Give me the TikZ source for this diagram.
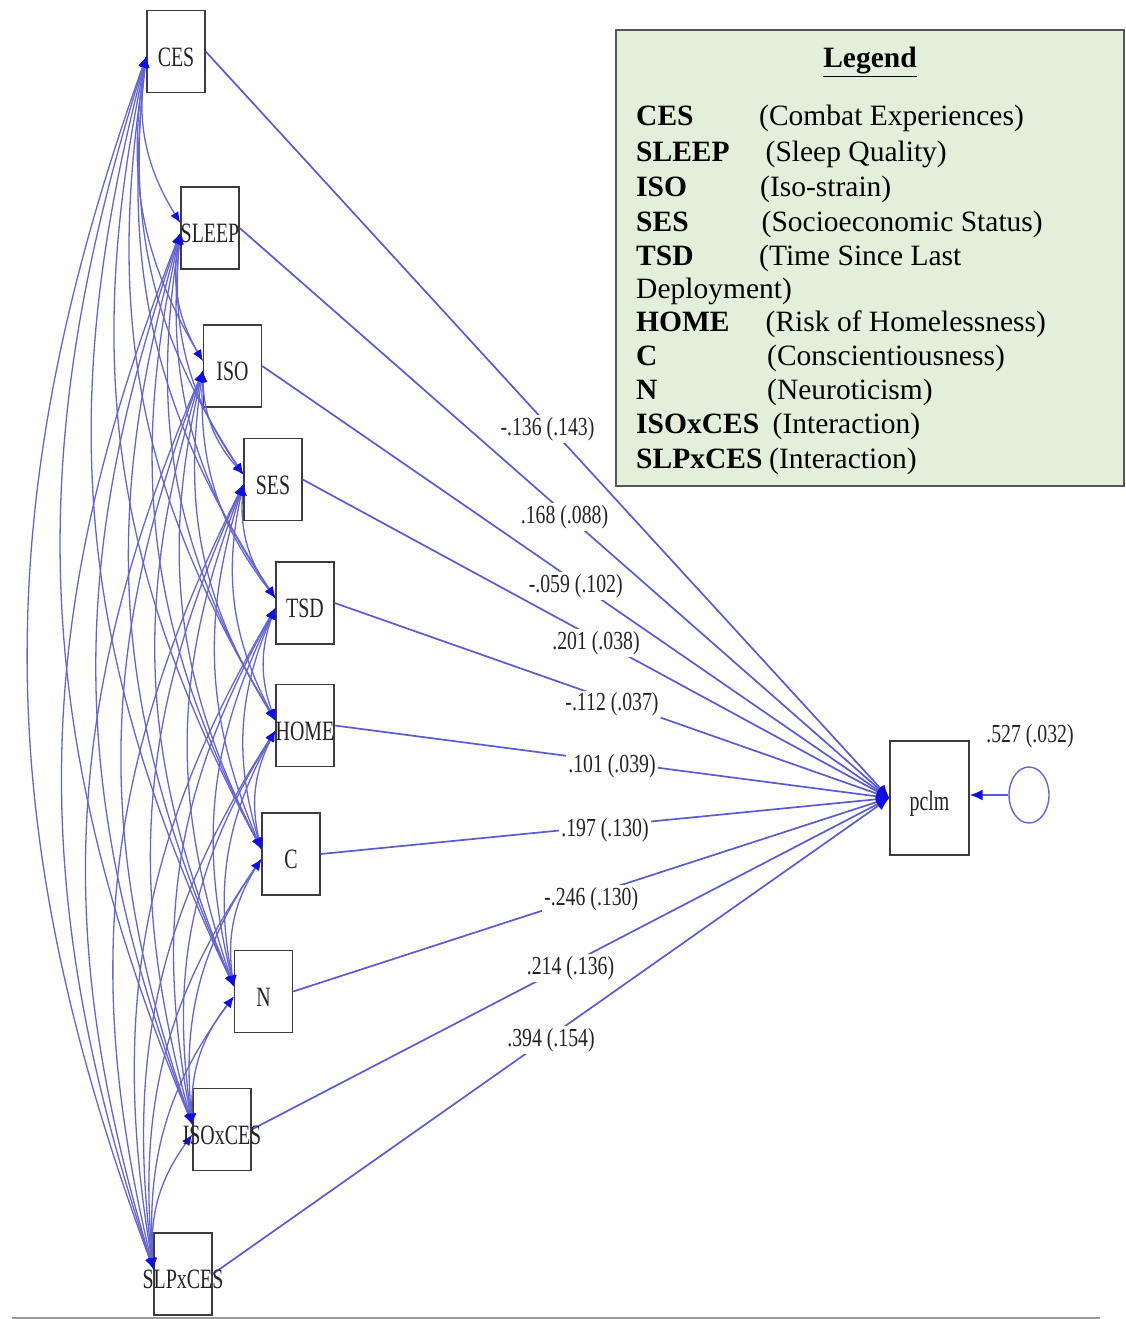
\documentclass[tikz,border=0pt]{standalone}
\usepackage{fontspec}
\setmainfont{Liberation Serif}
\usepackage{graphicx}
\usetikzlibrary{arrows.meta,shapes.geometric,calc}
\definecolor{covc}{RGB}{100,100,215}
\definecolor{regc}{RGB}{90,90,210}
\definecolor{arrc}{RGB}{15,15,225}
\definecolor{boxc}{RGB}{60,60,60}
\definecolor{txtc}{RGB}{35,35,35}
\definecolor{leggreen}{RGB}{226,239,218}
\definecolor{legline}{RGB}{85,85,85}
\newcommand{\vlabtext}[1]{\scalebox{0.71}[1]{#1}}
\newcommand{\elabtext}[1]{\scalebox{0.76}[1]{#1}}
\begin{document}
\begin{tikzpicture}[x=1pt,y=-1pt,
  vbox/.style={draw=boxc,line width=1.4pt,minimum width=58pt,minimum height=82pt,inner sep=0pt},
  vlab/.style={font=\fontsize{28}{30}\selectfont,text=txtc,inner sep=0pt},
  cov/.style={draw=covc,line width=1.3pt,{Latex[length=11pt,width=9pt,color=arrc]}-{Latex[length=11pt,width=9pt,color=arrc]}},
  reg/.style={draw=regc,line width=1.7pt,-{Latex[length=13pt,width=11pt,color=arrc]}},
  elab/.style={font=\fontsize{26}{28}\selectfont,text=txtc,fill=white,inner sep=2pt,yshift=-4pt},
  lterm/.style={anchor=base west,font=\fontsize{29.5}{32}\selectfont\bfseries,inner sep=0pt},
  ldesc/.style={anchor=base west,font=\fontsize{29.5}{32}\selectfont,inner sep=0pt}]
\useasboundingbox (0,0) rectangle (1125,1319);

% legend
\draw[draw=legline,fill=leggreen,line width=1.3pt] (616,30) rectangle (1124,486);
\node[anchor=base,font=\fontsize{29.5}{32}\selectfont\bfseries,inner sep=0pt] (legt) at (870,68) {\underline{Legend}};
\node[lterm] (l1) at (636,125) {CES};      \node[ldesc] (d1) at (759,125) {(Combat Experiences)};
\node[lterm] (l2) at (636,161.5) {SLEEP};  \node[ldesc] (d2) at (765.5,161.5) {(Sleep Quality)};
\node[lterm] (l3) at (636,196.5) {ISO};    \node[ldesc] (d3) at (760,196.5) {(Iso-strain)};
\node[lterm] (l4) at (636,231.5) {SES};    \node[ldesc] (d4) at (761.5,231.5) {(Socioeconomic Status)};
\node[lterm] (l5) at (636,265) {TSD};      \node[ldesc] (d5) at (759,265) {(Time Since Last};
\node[ldesc] (d5b) at (636,298.5) {Deployment)};
\node[lterm] (l6) at (636,331.5) {HOME};   \node[ldesc] (d6) at (765.5,331.5) {(Risk of Homelessness)};
\node[lterm] (l7) at (636,365.5) {C};      \node[ldesc] (d7) at (767,365.5) {(Conscientiousness)};
\node[lterm] (l8) at (636,399.5) {N};      \node[ldesc] (d8) at (767,399.5) {(Neuroticism)};
\node[lterm] (l9) at (636,433.5) {ISOxCES}; \node[ldesc] (d9) at (772.5,433.5) {(Interaction)};
\node[lterm] (l10) at (636,468) {SLPxCES}; \node[ldesc] (d10) at (769,468) {(Interaction)};

% variable boxes
\node[vbox] (CES) at (176,51.5) {};
\node[vbox] (SLEEP) at (210,228) {};
\node[vbox] (ISO) at (232.5,366) {};
\node[vbox] (SES) at (273,479.5) {};
\node[vbox] (TSD) at (305,603) {};
\node[vbox] (HOME) at (305,725.5) {};
\node[vbox] (C) at (291,854) {};
\node[vbox] (N) at (263.5,991.5) {};
\node[vbox] (ISOxCES) at (222,1129.5) {};
\node[vbox] (SLPxCES) at (183,1274) {};
\node[vbox,minimum width=79pt,minimum height=114pt] (pclm) at (929.5,798) {};
\node[ellipse,draw=covc,line width=1.4pt,minimum width=40pt,minimum height=56pt,inner sep=0pt] (res) at (1029,795) {};

% covariances
\foreach \a [count=\i] in {CES,SLEEP,ISO,SES,TSD,HOME,C,N,ISOxCES,SLPxCES}{
  \foreach \b [count=\j] in {CES,SLEEP,ISO,SES,TSD,HOME,C,N,ISOxCES,SLPxCES}{
    \ifnum\j>\i
      \coordinate (cp) at ([yshift=-5pt]\a.west);
      \coordinate (cq) at ([yshift=5pt]\b.west);
      \draw[cov] (cp) .. controls ($(cp)!0.3915!-20:(cq)$) and ($(cq)!0.3915!20:(cp)$) .. (cq);
    \fi
  }
}

% regressions
\draw[reg] (CES.east) -- node[elab] (e1) {\elabtext{-.136 (.143)}} (pclm.west);
\draw[reg] (SLEEP.east) -- node[elab] (e2) {\elabtext{.168 (.088)}} (pclm.west);
\draw[reg] (ISO.east) -- node[elab] (e3) {\elabtext{-.059 (.102)}} (pclm.west);
\draw[reg] (SES.east) -- node[elab] (e4) {\elabtext{.201 (.038)}} (pclm.west);
\draw[reg] (TSD.east) -- node[elab] (e5) {\elabtext{-.112 (.037)}} (pclm.west);
\draw[reg] (HOME.east) -- node[elab] (e6) {\elabtext{.101 (.039)}} (pclm.west);
\draw[reg] (C.east) -- node[elab] (e7) {\elabtext{.197 (.130)}} (pclm.west);
\draw[reg] (N.east) -- node[elab] (e8) {\elabtext{-.246 (.130)}} (pclm.west);
\draw[reg] (ISOxCES.east) -- node[elab] (e9) {\elabtext{.214 (.136)}} (pclm.west);
\draw[reg] (SLPxCES.east) -- node[elab] (e10) {\elabtext{.394 (.154)}} (pclm.west);
\draw[reg] (res.west) -- (res.west -| pclm.east);
\node[font=\fontsize{26}{28}\selectfont,text=txtc,inner sep=0pt] (rl) at (1030,736) {\elabtext{.527 (.032)}};

% variable labels
\foreach \n/\t in {CES/CES,SLEEP/SLEEP,ISO/ISO,SES/SES,TSD/TSD,HOME/HOME,C/C,N/N,ISOxCES/ISOxCES,SLPxCES/SLPxCES,pclm/pclm}{
  \node[vlab] (t\n) at ([yshift=-5.5pt]\n.center) {\vlabtext{\t}};
}

% bottom rule
\coordinate (bl) at (12,1318);
\coordinate (br) at (1100,1318);
\draw[gray!80,line width=1.2pt] (bl) -- (br);
\end{tikzpicture}
\end{document}
